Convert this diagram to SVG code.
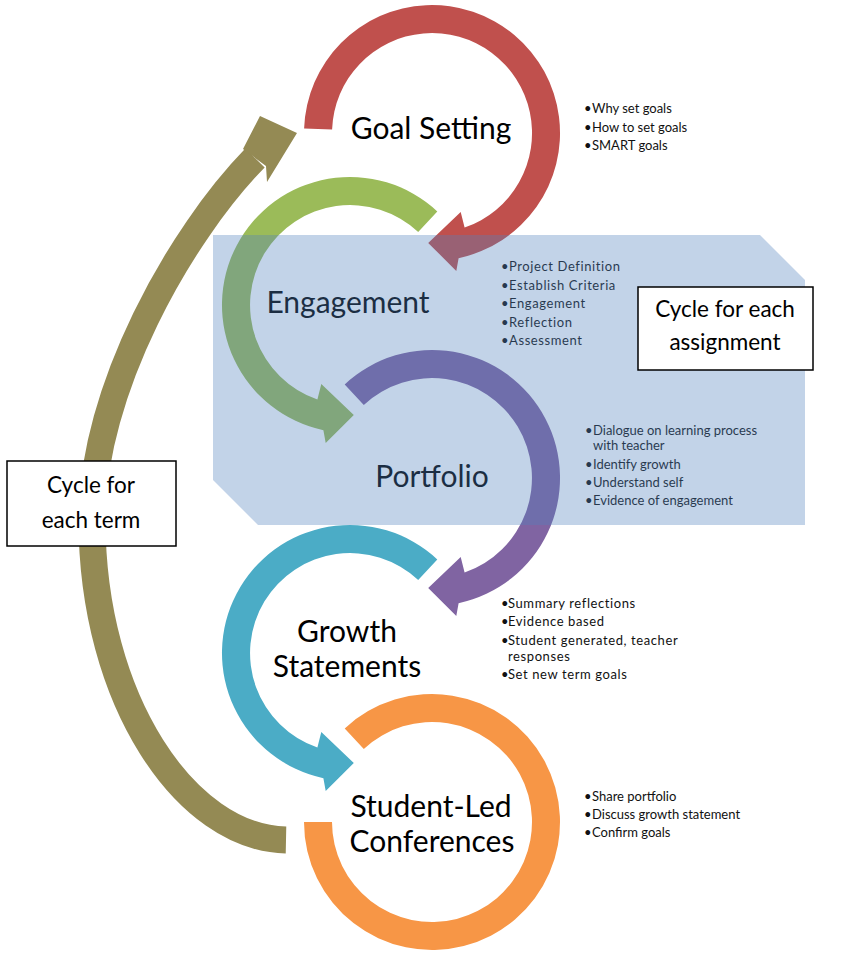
<svg xmlns="http://www.w3.org/2000/svg" width="846" height="954" viewBox="0 0 846 954">
<style>
.t{font-family:Lato,Carlito,"Liberation Sans",sans-serif;fill:#000}
.title{font-size:30px;text-anchor:middle}
.b{font-size:13px;fill:#111}
.bs{letter-spacing:0.6px}
.box{fill:#fff;stroke:#000;stroke-width:1.5}
.bt{font-size:22.5px;text-anchor:middle}
</style>
<defs>
<path id="circArrow" d="M-87.3,-93.6 A128,128 0 1 1 26.6,125.2 L24.3,137.9 L-3.8,109.9 L28.7,78.9 L32.6,94.6 A100,100 0 1 0 -68.2,-73.1 Z"/>
</defs>
<rect width="846" height="954" fill="#fff"/>
<g id="connectors">
<path d="M286,840 C186,838 92,700 92,520 C92,390 180,235 255,158" fill="none" stroke="#948A54" stroke-width="27"/>
<polygon points="243,149 260,116 297,133 267,182 266,166" fill="#948A54"/>
</g>
<g id="goal-setting">
<path transform="translate(432,133)" d="M-127.9,-4.5 A128,128 0 1 1 26.6,125.2 L24.3,137.9 L-3.8,109.9 L28.7,78.9 L32.6,94.6 A100,100 0 1 0 -99.9,-3.5 Z" fill="#C0504D"/>
<text class="t title" x="431" y="139">Goal Setting</text>
<text class="t b"><tspan x="584" y="113">•</tspan><tspan x="592" y="113">Why set goals</tspan></text>
<text class="t b"><tspan x="584" y="132">•</tspan><tspan x="592" y="132">How to set goals</tspan></text>
<text class="t b"><tspan x="584" y="150">•</tspan><tspan x="592" y="150">SMART goals</tspan></text>
</g>
<g id="engagement">
<use href="#circArrow" transform="translate(350,305) scale(-1,1)" fill="#9BBB59"/>
<text class="t title" x="348" y="313">Engagement</text>
<text class="t b bs"><tspan x="501" y="271">•</tspan><tspan x="509" y="271">Project Definition</tspan></text>
<text class="t b bs"><tspan x="501" y="290">•</tspan><tspan x="509" y="290">Establish Criteria</tspan></text>
<text class="t b bs"><tspan x="501" y="308">•</tspan><tspan x="509" y="308">Engagement</tspan></text>
<text class="t b bs"><tspan x="501" y="327">•</tspan><tspan x="509" y="327">Reflection</tspan></text>
<text class="t b bs"><tspan x="501" y="345">•</tspan><tspan x="509" y="345">Assessment</tspan></text>
</g>
<g id="portfolio">
<use href="#circArrow" transform="translate(432,478)" fill="#8064A2"/>
<text class="t title" x="432" y="487">Portfolio</text>
<text class="t b"><tspan x="585" y="435">•</tspan><tspan x="593" y="435">Dialogue on learning process</tspan></text>
<text class="t b" x="593" y="450">with teacher</text>
<text class="t b"><tspan x="585" y="469">•</tspan><tspan x="593" y="469">Identify growth</tspan></text>
<text class="t b"><tspan x="585" y="487">•</tspan><tspan x="593" y="487">Understand self</tspan></text>
<text class="t b"><tspan x="585" y="505">•</tspan><tspan x="593" y="505">Evidence of engagement</tspan></text>
</g>
<g id="growth-statements">
<use href="#circArrow" transform="translate(350,653) scale(-1,1)" fill="#4BACC6"/>
<text class="t title" x="347" y="642">Growth</text>
<text class="t title" x="347" y="677">Statements</text>
<text class="t b bs"><tspan x="501" y="608">•</tspan><tspan x="508" y="608">Summary reflections</tspan></text>
<text class="t b bs"><tspan x="501" y="626">•</tspan><tspan x="508" y="626">Evidence based</tspan></text>
<text class="t b bs"><tspan x="501" y="645">•</tspan><tspan x="508" y="645">Student generated, teacher</tspan></text>
<text class="t b bs" x="508" y="661">responses</text>
<text class="t b bs"><tspan x="501" y="679">•</tspan><tspan x="508" y="679">Set new term goals</tspan></text>
</g>
<g id="student-led-conferences">
<path transform="translate(432,822)" d="M-87.3,-93.6 A128,128 0 1 1 -128,0 L-100,0 A100,100 0 1 0 -68.2,-73.1 Z" fill="#F79646"/>
<text class="t title" x="431" y="817">Student-Led</text>
<text class="t title" x="432" y="852">Conferences</text>
<text class="t b"><tspan x="584" y="801">•</tspan><tspan x="592" y="801">Share portfolio</tspan></text>
<text class="t b"><tspan x="584" y="819">•</tspan><tspan x="592" y="819">Discuss growth statement</tspan></text>
<text class="t b"><tspan x="584" y="837">•</tspan><tspan x="592" y="837">Confirm goals</tspan></text>
</g>
<g id="assignment-band">
<polygon points="213,235 760,235 805,280 805,525 258,525 213,480" fill="#4F81BD" fill-opacity="0.35"/>
</g>
<g id="cycle-assignment">
<rect class="box" x="638" y="287" width="175" height="83"/>
<text class="t bt" x="725" y="317">Cycle for each</text>
<text class="t bt" x="725" y="350">assignment</text>
</g>
<g id="cycle-term">
<rect class="box" x="7" y="461" width="169" height="85"/>
<text class="t bt" x="91" y="493">Cycle for</text>
<text class="t bt" x="91" y="528">each term</text>
</g>
</svg>
